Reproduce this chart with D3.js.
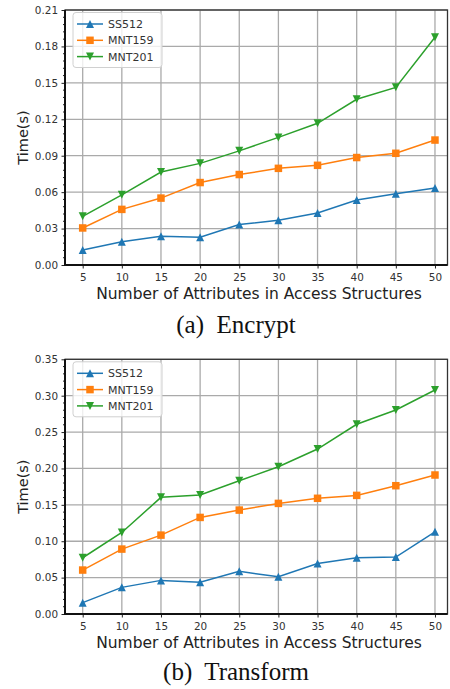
<!DOCTYPE html>
<html>
<head>
<meta charset="utf-8">
<script src="https://cdn.jsdelivr.net/npm/d3@7"></script>
<style>
  body { margin: 0; background: #fff; }
  svg { display: block; }
  .axis .tick text { font-family: 'DejaVu Sans', sans-serif; font-size: 10.4px; fill: #333; }
  .axis .tick line { stroke: #222; }
  .axis-title { font-family: 'DejaVu Sans', sans-serif; fill: #222; }
  .legend text { font-family: 'DejaVu Sans', sans-serif; font-size: 11px; fill: #333; }
  .caption { font-family: 'Liberation Serif', 'Times New Roman', serif; font-size: 25px; fill: #111; }
</style>
</head>
<body>
<svg id="chart"></svg>
<script>
// svg size
const width = 450;
const height = 689;

// x values shared by both panels
const attributes = [5, 10, 15, 20, 25, 30, 35, 40, 45, 50];

const seriesNames = ['SS512', 'MNT159', 'MNT201'];

// (a) Encrypt, seconds
const encryptSS512 = [0.0123, 0.0191, 0.0237, 0.0229, 0.0333, 0.0368, 0.0428, 0.0535, 0.0586, 0.0635];
const encryptMNT159 = [0.0305, 0.0458, 0.0551, 0.0679, 0.0745, 0.0796, 0.0821, 0.0885, 0.0920, 0.1029];
const encryptMNT201 = [0.0401, 0.0578, 0.0766, 0.0837, 0.0940, 0.1051, 0.1167, 0.1365, 0.1463, 0.1875];

// (b) Transform, seconds
const transformSS512 = [0.0156, 0.0366, 0.0462, 0.0435, 0.0586, 0.0512, 0.0695, 0.0773, 0.0782, 0.1130];
const transformMNT159 = [0.0604, 0.0892, 0.1084, 0.1327, 0.1428, 0.1520, 0.1590, 0.1630, 0.1763, 0.1910];
const transformMNT201 = [0.0773, 0.1120, 0.1603, 0.1635, 0.1832, 0.2024, 0.2267, 0.2607, 0.2803, 0.3078];

// tick labels
const encryptTicks = [0, 0.03, 0.06, 0.09, 0.12, 0.15, 0.18, 0.21];
const transformTicks = [0, 0.05, 0.10, 0.15, 0.20, 0.25, 0.30, 0.35];

const captions = ['(a)  Encrypt', '(b)  Transform'];
const xLabel = 'Number of Attributes in Access Structures';
const yLabel = 'Time(s)';

// matplotlib tab colors
const colors = ['#1f77b4', '#ff7f0e', '#2ca02c'];

const plotLeft = 65;
const plotRight = 447.5;

const svg = d3.select('#chart')
  .attr('width', width)
  .attr('height', height);

// custom marker shapes, size = box width in px
const triangleUp = {
  draw(ctx, s) {
    ctx.moveTo(0, -s / 2);
    ctx.lineTo(s / 2, s / 2);
    ctx.lineTo(-s / 2, s / 2);
    ctx.closePath();
  }
};
const triangleDown = {
  draw(ctx, s) {
    ctx.moveTo(0, s / 2);
    ctx.lineTo(s / 2, -s / 2);
    ctx.lineTo(-s / 2, -s / 2);
    ctx.closePath();
  }
};
const square = {
  draw(ctx, s) {
    ctx.rect(-s / 2, -s / 2, s, s);
  }
};
// order follows seriesNames: SS512 ^, MNT159 s, MNT201 v
const markerFor = [
  { type: triangleUp, size: 8 },
  { type: square, size: 7.5 },
  { type: triangleDown, size: 8 }
];

const panels = [
  {
    top: 10, bottom: 265, ticks: encryptTicks,
    series: [encryptSS512, encryptMNT159, encryptMNT201],
    caption: captions[0], captionY: 333
  },
  {
    top: 359.3, bottom: 614, ticks: transformTicks,
    series: [transformSS512, transformMNT159, transformMNT201],
    caption: captions[1], captionY: 680
  }
];

panels.forEach(drawPanel);

function drawPanel(p) {
  const g = svg.append('g');

  const x = d3.scaleLinear()
    .domain([2.74, 51.6])
    .range([plotLeft, plotRight]);

  const yMax = p.ticks[p.ticks.length - 1];
  const y = d3.scaleLinear()
    .domain([0, yMax])
    .range([p.bottom, p.top]);

  // grid
  const grid = g.append('g').attr('class', 'grid');
  grid.selectAll('line.gx')
    .data(attributes)
    .enter()
    .append('line')
    .attr('x1', d => x(d)).attr('x2', d => x(d))
    .attr('y1', p.top).attr('y2', p.bottom)
    .attr('stroke', '#aaaaaa').attr('stroke-width', 1.3);
  grid.selectAll('line.gy')
    .data(p.ticks)
    .enter()
    .append('line')
    .attr('x1', plotLeft).attr('x2', plotRight)
    .attr('y1', d => y(d)).attr('y2', d => y(d))
    .attr('stroke', '#aaaaaa').attr('stroke-width', 1.3);

  // frame
  g.append('rect')
    .attr('x', plotLeft).attr('y', p.top)
    .attr('width', plotRight - plotLeft)
    .attr('height', p.bottom - p.top)
    .attr('fill', 'none')
    .attr('stroke', '#333')
    .attr('stroke-width', 1.3);

  // lines and markers
  p.series.forEach((values, i) => {
    const pts = attributes.map((a, j) => ({ a: a, v: values[j] }));
    const line = d3.line().x(d => x(d.a)).y(d => y(d.v));
    g.append('path')
      .datum(pts)
      .attr('d', line)
      .attr('fill', 'none')
      .attr('stroke', colors[i])
      .attr('stroke-width', 1.5);
    const m = markerFor[i];
    g.selectAll('path.m' + i)
      .data(pts)
      .enter()
      .append('path')
      .attr('class', 'm' + i)
      .attr('d', d3.symbol().type(m.type).size(m.size))
      .attr('transform', d => translate(x(d.a), y(d.v)))
      .attr('fill', colors[i]);
  });

  // axes
  const xAxis = d3.axisBottom(x)
    .tickValues(attributes)
    .tickSize(3.5)
    .tickPadding(5.5);
  const yAxis = d3.axisLeft(y)
    .tickValues(p.ticks)
    .tickFormat(d3.format('.2f'))
    .tickSize(3.5)
    .tickPadding(3.5);

  const xg = g.append('g').attr('class', 'axis')
    .attr('transform', translate(0, p.bottom))
    .call(xAxis);
  xg.select('.domain').remove();

  const yg = g.append('g').attr('class', 'axis')
    .attr('transform', translate(plotLeft, 0))
    .call(yAxis);
  yg.select('.domain').remove();

  // minor y ticks
  const step = p.ticks[1] - p.ticks[0];
  const minor = d3.range(0, yMax + 1e-9, step / 5)
    .filter((d, i) => i % 5 !== 0);
  g.selectAll('line.minor')
    .data(minor)
    .enter()
    .append('line')
    .attr('x1', plotLeft - 2).attr('x2', plotLeft)
    .attr('y1', d => y(d)).attr('y2', d => y(d))
    .attr('stroke', '#222').attr('stroke-width', 1);

  // left and bottom spines, heavier
  g.append('line')
    .attr('x1', plotLeft).attr('x2', plotLeft)
    .attr('y1', p.top).attr('y2', p.bottom + 1)
    .attr('stroke', '#111').attr('stroke-width', 2);
  g.append('line')
    .attr('x1', plotLeft - 1).attr('x2', plotRight)
    .attr('y1', p.bottom).attr('y2', p.bottom)
    .attr('stroke', '#111').attr('stroke-width', 2);

  // axis titles
  g.append('text')
    .attr('class', 'axis-title')
    .attr('x', 259)
    .attr('y', p.bottom + 34)
    .attr('text-anchor', 'middle')
    .style('font-size', '15.5px')
    .text(xLabel);

  const yTitle = g.append('g')
    .attr('transform', translate(28, (p.top + p.bottom) / 2));
  yTitle.append('text')
    .attr('class', 'axis-title')
    .attr('transform', 'rotate(-90)')
    .attr('text-anchor', 'middle')
    .style('font-size', '14.5px')
    .text(yLabel);

  drawLegend(g, p.top);

  // caption
  g.append('text')
    .attr('class', 'caption')
    .attr('x', 236)
    .attr('y', p.captionY)
    .attr('text-anchor', 'middle')
    .style('white-space', 'pre')
    .text(p.caption);
}

function drawLegend(g, top) {
  const group = g.append('g').attr('class', 'legend');
  group.append('rect')
    .attr('x', 73).attr('y', top + 2.5)
    .attr('width', 89).attr('height', 55)
    .attr('rx', 3)
    .attr('fill', 'white').attr('fill-opacity', 0.8)
    .attr('stroke', '#d0d0d0');

  seriesNames.forEach((name, i) => {
    const cy = top + 14 + i * 16.3;
    group.append('line')
      .attr('x1', 77).attr('x2', 103)
      .attr('y1', cy).attr('y2', cy)
      .attr('stroke', colors[i]).attr('stroke-width', 1.5);
    const m = markerFor[i];
    group.append('path')
      .attr('d', d3.symbol().type(m.type).size(m.size))
      .attr('transform', translate(90, cy))
      .attr('fill', colors[i]);
    group.append('text')
      .attr('x', 108)
      .attr('y', cy)
      .attr('dy', '0.36em')
      .text(name);
  });
}

function translate(x, y) {
  return 'translate(' + String(x) + ',' + String(y) + ')';
}
</script>
</body>
</html>
